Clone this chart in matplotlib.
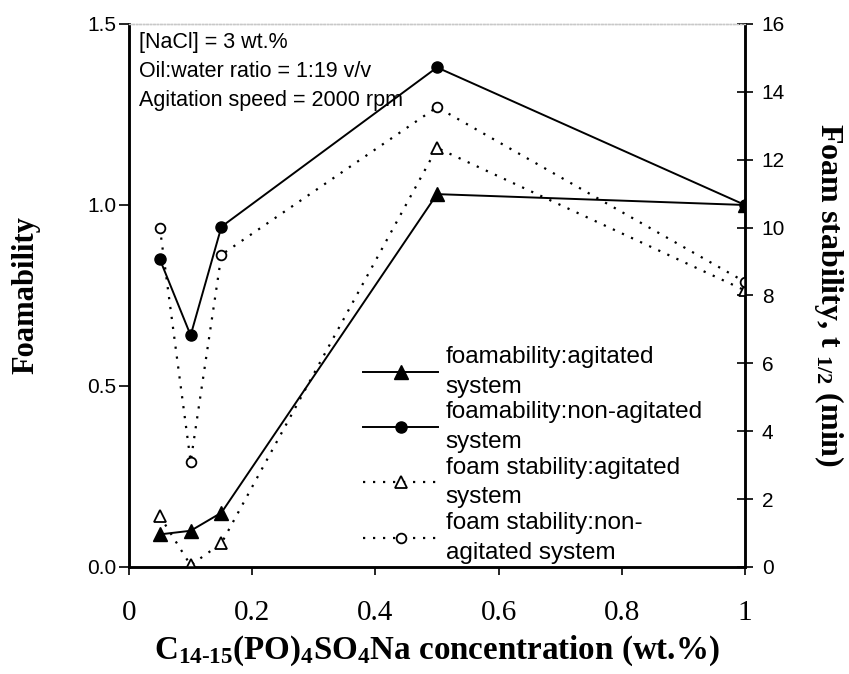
import matplotlib
matplotlib.use("Agg")
import matplotlib.pyplot as plt

plt.rcParams["mathtext.fontset"] = "custom"
plt.rcParams["mathtext.rm"] = "Liberation Serif"
plt.rcParams["mathtext.bf"] = "Liberation Serif:bold"
plt.rcParams["mathtext.it"] = "Liberation Serif:italic"

conc = [0.05, 0.10, 0.15, 0.50, 1.00]
foam_agitated = [0.09, 0.10, 0.15, 1.03, 1.00]
foam_nonagitated = [0.85, 0.64, 0.94, 1.38, 1.00]
stab_agitated = [1.5, 0.05, 0.7, 12.35, 8.15]
stab_nonagitated = [10.0, 3.1, 9.2, 13.55, 8.4]

xticks = [0, 0.2, 0.4, 0.6, 0.8, 1]
xticklabels = ["0", "0.2", "0.4", "0.6", "0.8", "1"]
yticks_left = [0.0, 0.5, 1.0, 1.5]
yticks_right = [0, 2, 4, 6, 8, 10, 12, 14, 16]

sans = "Liberation Sans"
serif = "Liberation Serif"

fig = plt.figure(figsize=(8.49, 6.74), dpi=100)
ax = fig.add_axes([0.152, 0.1588, 0.7255, 0.8056])
ax2 = ax.twinx()

l1, = ax.plot(conc, foam_agitated, color="black", lw=1.4, marker="^", ms=10,
              label="foamability:agitated\nsystem")
l2, = ax.plot(conc, foam_nonagitated, color="black", lw=1.4, marker="o", ms=8,
              label="foamability:non-agitated\nsystem")
l3, = ax2.plot(conc, stab_agitated, color="black", lw=1.6, ls=(0, (1.0, 3.5)),
               marker="^", ms=9, mfc="white", mew=1.3,
               label="foam stability:agitated\nsystem")
l4, = ax2.plot(conc, stab_nonagitated, color="black", lw=1.6, ls=(0, (1.0, 3.5)),
               marker="o", ms=7, mfc="white", mew=1.3,
               label="foam stability:non-\nagitated system")

ax.set_xlim(0, 1)
ax.set_ylim(0, 1.5)
ax2.set_ylim(0, 16)

ax.set_xticks(xticks)
ax.set_xticklabels(xticklabels, fontfamily=serif, fontsize=21)
ax.tick_params(axis="x", direction="out", length=6, width=1.2, pad=18)
ax.set_yticks(yticks_left)
ax.set_yticklabels(["0.0", "0.5", "1.0", "1.5"], fontfamily=sans, fontsize=15)
ax.tick_params(axis="y", direction="out", length=7, width=1.2, pad=2)
ax2.set_yticks(yticks_right)
ax2.set_yticklabels([str(t) for t in yticks_right], fontfamily=sans, fontsize=15)
ax2.tick_params(axis="y", direction="inout", length=12, width=1.2, pad=6)

for a in (ax, ax2):
    a.spines["top"].set_linestyle((0, (1, 1.5)))
    a.spines["top"].set_color("#c8c8c8")
    a.spines["top"].set_linewidth(1.0)
    a.spines["left"].set_linewidth(1.8)
    a.spines["right"].set_linewidth(1.8)
    a.spines["bottom"].set_linewidth(1.8)

ax.set_ylabel("Foamability", fontfamily=serif, fontweight="bold", fontsize=22, labelpad=34)
ax2.set_ylabel("Foam stability, t $_{\\mathbf{1/2}}$ (min)", fontfamily=serif,
               fontweight="bold", fontsize=23, rotation=-90, labelpad=44)
ax.set_xlabel("C$_{\\mathbf{14\\text{-}15}}$(PO)$_{\\mathbf{4}}$SO$_{\\mathbf{4}}$Na concentration (wt.%)",
              fontfamily=serif, fontweight="bold", fontsize=23.8, labelpad=5)

ax.text(0.016, 0.965, "[NaCl] = 3 wt.%", transform=ax.transAxes, fontfamily=sans,
        fontsize=15.5, va="center")
ax.text(0.016, 0.912, "Oil:water ratio = 1:19 v/v", transform=ax.transAxes, fontfamily=sans,
        fontsize=15.5, va="center")
ax.text(0.016, 0.86, "Agitation speed = 2000 rpm", transform=ax.transAxes, fontfamily=sans,
        fontsize=15.5, va="center")

leg = ax2.legend(handles=[l1, l2, l3, l4], loc="lower left",
                 bbox_to_anchor=(0.352, -0.025), frameon=False,
                 prop={"family": sans, "size": 17.5}, handlelength=3.1,
                 handletextpad=0.3, labelspacing=0.15, borderpad=0.2)
for t in leg.get_texts():
    t.set_linespacing(1.45)

fig.savefig("out.png", dpi=100)
